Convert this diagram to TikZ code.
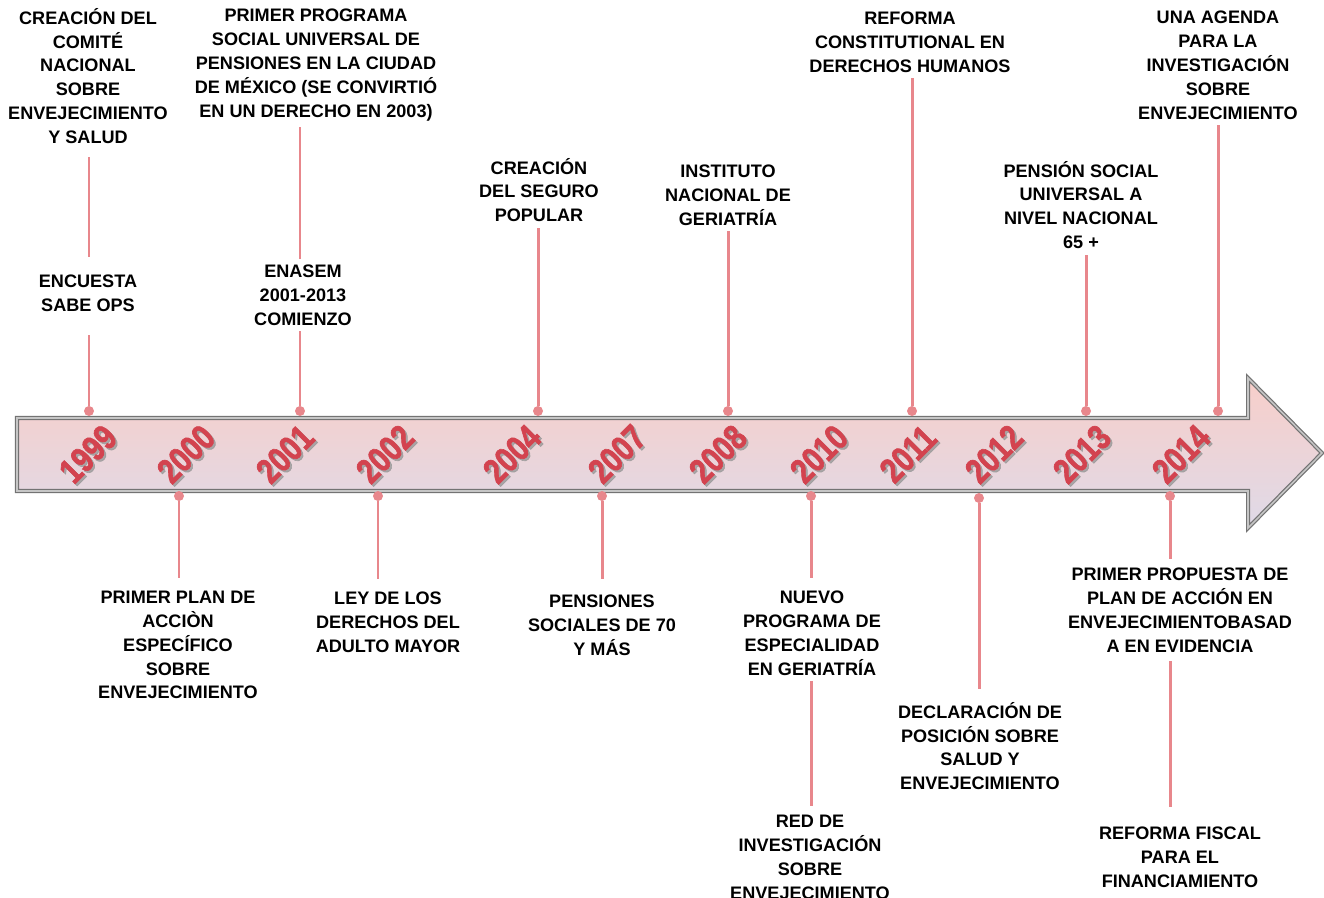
\documentclass[tikz,border=0pt]{standalone}
\usepackage{fontspec}
\setmainfont{Liberation Sans}
\newfontfamily\yearfont[FakeBold=2]{Liberation Sans Bold}
\usepackage{xcolor}
\usepackage{tikz}
\usetikzlibrary{positioning}

\definecolor{pinred}{HTML}{E8878C}
\definecolor{yearred}{HTML}{D3434F}
\definecolor{arrowtop}{HTML}{F8CEC9}
\definecolor{arrowbot}{HTML}{DFDAE8}

\begin{document}
\begin{tikzpicture}[x=0.02cm, y=-0.02cm,
  event/.style={font=\bfseries\fontsize{10.3}{13.6}\selectfont, align=center, inner sep=3pt},
  year/.style={font=\yearfont\fontsize{20}{20}\selectfont, text=yearred, rotate=45, xscale=0.82, inner sep=0pt},
  pin/.style={draw=pinred, line width=1.7pt},
  dot/.style={circle, fill=pinred, inner sep=0pt, minimum size=0.2cm}]
\useasboundingbox (0,0) rectangle (1324,897);

% arrow
\path[top color=arrowtop, middle color=arrowtop, bottom color=arrowbot,
  draw=gray!90!black, double=gray!45, line width=0.7pt, double distance=0.9pt]
  (17,418) -- (1248,418) -- (1248,378) -- (1322,453) -- (1248,528)
  -- (1248,491) -- (17,491) -- cycle;

\foreach \xx/\yr in {88/1999, 186/2000, 285/2001, 385/2002, 512/2004, 617/2007,
  718/2008, 819/2010, 908/2011, 994/2012, 1082/2013, 1181/2014} {
  \node[year, text=gray!80, opacity=0.8] at (\xx+2,456) {\yr};
  \node[year] (y\yr) at (\xx,454) {\yr};
}

% pins
\node[dot] (d1999) at (89,411) {};
\node[dot] (d2001) at (300,411) {};
\node[dot] (d2004) at (538,411) {};
\node[dot] (d2008) at (728,411) {};
\node[dot] (d2011) at (912,411) {};
\node[dot] (d2013) at (1086,411) {};
\node[dot] (d2014a) at (1218,411) {};
\node[dot] (d2000) at (179,496) {};
\node[dot] (d2002) at (378,496) {};
\node[dot] (d2007) at (602,496) {};
\node[dot] (d2010) at (811,496) {};
\node[dot] (d2012) at (979,498) {};
\node[dot] (d2014b) at (1170,496) {};

% events above
\node[event] (creacion) at (88,76) {CREACIÓN DEL\\COMITÉ\\NACIONAL\\SOBRE\\ENVEJECIMIENTO\\Y SALUD};
\node[event] (encuesta) at (88,293) {ENCUESTA\\SABE OPS};
\node[event] (primerprog) at (316,65) {PRIMER PROGRAMA\\SOCIAL UNIVERSAL DE\\PENSIONES EN LA CIUDAD\\DE MÉXICO (SE CONVIRTIÓ\\EN UN DERECHO EN 2003)};
\node[event] (enasem) at (303,295) {ENASEM\\2001-2013\\COMIENZO};
\node[event] (seguro) at (539,190) {CREACIÓN\\DEL SEGURO\\POPULAR};
\node[event] (instituto) at (728,195) {INSTITUTO\\NACIONAL DE\\GERIATRÍA};
\node[event] (reforma) at (910,42) {REFORMA\\CONSTITUTIONAL EN\\DERECHOS HUMANOS};
\node[event] (pension) at (1081,205) {PENSIÓN SOCIAL\\UNIVERSAL A\\NIVEL NACIONAL\\65 +};
\node[event] (agenda) at (1218,65) {UNA AGENDA\\PARA LA\\INVESTIGACIÓN\\SOBRE\\ENVEJECIMIENTO};

% events below
\node[event] (plan) at (178,645) {PRIMER PLAN DE\\ACCIÒN\\ESPECÍFICO\\SOBRE\\ENVEJECIMIENTO};
\node[event] (ley) at (388,622) {LEY DE LOS\\DERECHOS DEL\\ADULTO MAYOR};
\node[event] (pensiones) at (602,625) {PENSIONES\\SOCIALES DE 70\\Y MÁS};
\node[event] (nuevo) at (812,633) {NUEVO\\PROGRAMA DE\\ESPECIALIDAD\\EN GERIATRÍA};
\node[event] (red) at (810,857) {RED DE\\INVESTIGACIÓN\\SOBRE\\ENVEJECIMIENTO};
\node[event] (declaracion) at (980,746) {DECLARACIÓN DE\\POSICIÓN SOBRE\\SALUD Y\\ENVEJECIMIENTO};
\node[event] (propuesta) at (1180,610) {PRIMER PROPUESTA DE\\PLAN DE ACCIÓN EN\\ENVEJECIMIENTOBASAD\\A EN EVIDENCIA};
\node[event] (fiscal) at (1180,857) {REFORMA FISCAL\\PARA EL\\FINANCIAMIENTO};

% connectors
\draw[pin, shorten >=10pt] (d1999.north) -- (d1999 |- encuesta.south);
\draw[pin, shorten <=7pt, shorten >=4pt] (encuesta.north -| d1999) -- (creacion.south -| d1999);
\draw[pin] (d2001.north) -- (d2001 |- enasem.south);
\draw[pin] (enasem.north -| d2001) -- (primerprog.south -| d2001);
\draw[pin] (d2004.north) -- (d2004 |- seguro.south);
\draw[pin] (d2008.north) -- (d2008 |- instituto.south);
\draw[pin] (d2011.north) -- (d2011 |- reforma.south);
\draw[pin] (d2013.north) -- (d2013 |- pension.south);
\draw[pin] (d2014a.north) -- (d2014a |- agenda.south);
\draw[pin, shorten >=4pt] (d2000.south) -- (d2000 |- plan.north);
\draw[pin, shorten >=4pt] (d2002.south) -- (d2002 |- ley.north);
\draw[pin, shorten >=6pt] (d2007.south) -- (d2007 |- pensiones.north);
\draw[pin, shorten >=4pt] (d2010.south) -- (d2010 |- nuevo.north);
\draw[pin, shorten >=2pt] (nuevo.south -| d2010) -- (red.north -| d2010);
\draw[pin, shorten >=4pt] (d2012.south) -- (d2012 |- declaracion.north);
\draw[pin, shorten >=2pt] (d2014b.south) -- (d2014b |- propuesta.north);
\draw[pin, shorten <=2pt, shorten >=8pt] (propuesta.south -| d2014b) -- (fiscal.north -| d2014b);
\end{tikzpicture}
\end{document}
